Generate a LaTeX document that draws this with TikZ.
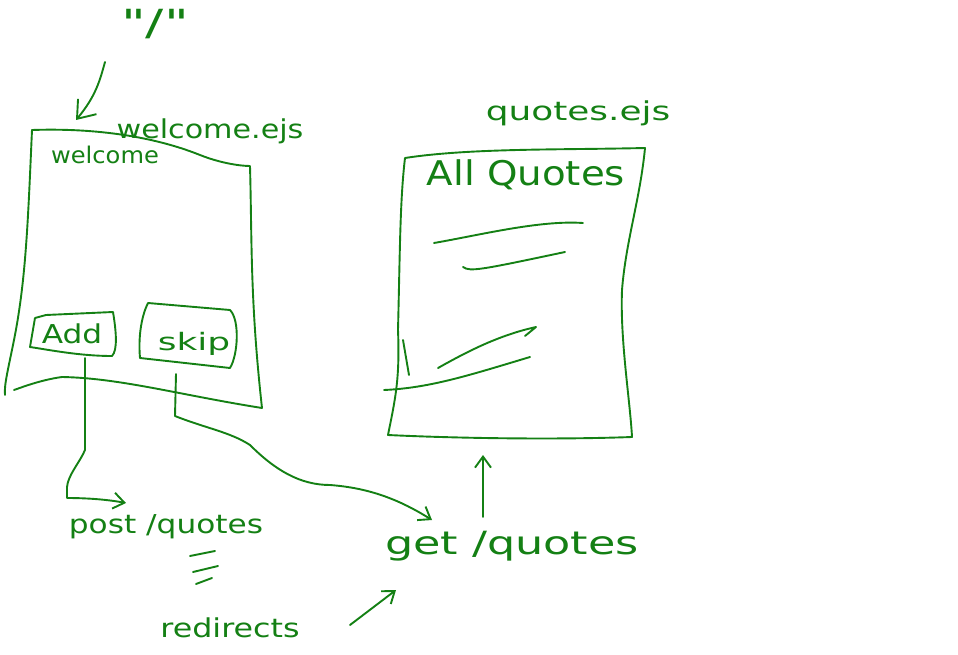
\documentclass[tikz,border=0pt]{standalone}
\usepackage{fontspec}
\usepackage{graphicx}
\setmainfont{DejaVu Sans}
\newfontfamily\rawfont{DejaVu Sans}
\usetikzlibrary{arrows.meta}
\definecolor{ink}{RGB}{20,128,20}
\newcommand\hstretch[2]{\scalebox{#1}[1]{#2}}
\tikzset{
  pen/.style={draw=ink, line width=1.9pt, line cap=round, line join=round},
  hand/.style={text=ink, inner sep=1pt, font=\fontsize{#1}{#1}\selectfont},
  hand/.default=20,
  tip/.style={-{Straight Barb[length=11pt,width=16pt,line width=1.9pt]}},
  bigtip/.style={-{Straight Barb[length=16pt,width=24pt,line width=1.9pt]}}
}
\begin{document}
\begin{tikzpicture}[x=1pt,y=-1pt]
\useasboundingbox (0,0) rectangle (958,655);

% top label
\node[hand=36] (root) at (155,24) {\rawfont\hstretch{1.5}{"/"}};
\coordinate (rootstart) at (105,62);
\coordinate (rootend) at (76,120);
\draw[pen,bigtip] (rootstart) .. controls (100,80) and (96,96) .. (rootend);

% welcome page
\draw[pen] (32,130) .. controls (90,128) and (150,135) .. (200,155)
  .. controls (220,163) and (240,166) .. (250,166)
  .. controls (252,240) and (250,300) .. (262,408)
  .. controls (180,395) and (120,378) .. (62,377)
  .. controls (40,380) and (20,388) .. (14,390);
\draw[pen] (32,130) .. controls (28,220) and (26,280) .. (14,340) .. controls (8,370) and (4,385) .. (5,395);
\node[hand=26] (wejs) at (210,131) {\hstretch{1.16}{welcome.ejs}};
\node[hand=23] (wtitle) at (105,155) {\hstretch{1.05}{welcome}};

% buttons
\draw[pen] (35,318) -- (46,315) -- (113,312) .. controls (116,330) and (118,350) .. (112,356) .. controls (80,356) and (50,350) .. (30,347) -- (35,318);
\node[hand=26] (add) at (72,334) {\hstretch{1.2}{Add}};
\draw[pen] (148,303) -- (230,310) .. controls (240,320) and (238,355) .. (230,368) -- (140,358) .. controls (138,335) and (142,315) .. (148,303);
\node[hand=24] (skip) at (194,344) {\hstretch{1.5}{skip}};

% connectors
\coordinate (addout) at (85,358);
\coordinate (postin) at (126,503);
\draw[pen,tip] (addout) -- (85,450) .. controls (80,462) and (68,475) .. (67,487) -- (67,498) .. controls (90,498) and (110,500) .. (postin);
\coordinate (skipout) at (176,374);
\coordinate (getin) at (432,520);
\draw[pen,tip] (skipout) -- (175,416) .. controls (205,428) and (230,432) .. (250,445)
  .. controls (275,470) and (300,485) .. (330,485)
  .. controls (370,488) and (400,500) .. (getin);

\node[hand=26] (post) at (166,527) {\hstretch{1.2}{post /quotes}};
\draw[pen] (190,556) -- (215,551);
\draw[pen] (193,572) -- (218,566);
\draw[pen] (196,584) -- (212,578);
\node[hand=26] (redir) at (230,628) {\hstretch{1.22}{redirects}};
\coordinate (redirstart) at (350,625);
\coordinate (redirend) at (396,590);
\draw[pen,tip] (redirstart) -- (redirend);

\node[hand=32] (get) at (512,546) {\hstretch{1.39}{get /quotes}};
\coordinate (getup) at (483,517);
\coordinate (qin) at (483,455);
\draw[pen,tip] (getup) -- (qin);

% quotes page
\draw[pen] (405,158) .. controls (470,148) and (560,150) .. (645,148)
  .. controls (640,200) and (626,240) .. (622,290)
  .. controls (620,340) and (630,400) .. (632,437)
  .. controls (550,440) and (450,438) .. (388,435)
  .. controls (395,400) and (400,380) .. (398,330)
  .. controls (400,250) and (400,200) .. (405,158);
\node[hand=26] (qejs) at (578,113) {\hstretch{1.38}{quotes.ejs}};
\node[hand=34] (allq) at (526,175) {\hstretch{1.14}{All Quotes}};
\draw[pen] (434,243) .. controls (480,235) and (540,220) .. (583,223);
\draw[pen] (463,267) .. controls (470,272) and (480,270) .. (565,252);
\draw[pen] (438,368) .. controls (470,350) and (500,335) .. (536,327) -- (525,336);
\draw[pen] (384,390) .. controls (430,388) and (470,375) .. (530,357);
\draw[pen] (403,340) -- (409,375);
\end{tikzpicture}
\end{document}
